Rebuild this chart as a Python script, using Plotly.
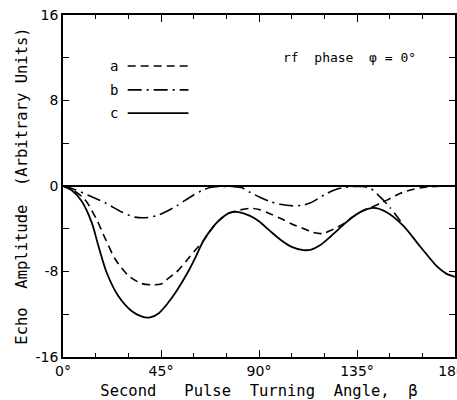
import plotly.graph_objects as go

# Curve a (dashed)
angle_a = [0, 5, 10, 15, 19.3, 24, 30, 36, 41, 45.3, 48, 52.9, 56.8, 60.6, 64.4, 67.5, 70.6, 73.5,
           76.7, 80, 86, 90, 95, 100, 105, 110, 115, 119, 124, 129.5, 133, 137.9, 141, 145.5, 149,
           154.7, 161, 167, 173, 180]
amp_a = [0, -0.45, -1.25, -2.95, -4.87, -6.85, -8.38, -9.12, -9.25, -9.15, -8.7, -7.9, -6.97, -6.03,
         -5.15, -4.25, -3.43, -2.9, -2.5, -2.3, -2.1, -2.2, -2.6, -3.05, -3.55, -3.95, -4.35, -4.45,
         -4.06, -3.45, -2.9, -2.3, -2.05, -1.63, -1.3, -0.7, -0.3, -0.1, -0.03, 0]

# Curve b (dash-dot)
angle_b = [0, 5, 11.6, 19.3, 27, 33, 39, 44, 47, 52.2, 56, 59.8, 63.5, 67.5, 72, 78, 82, 85.9,
           90.4, 95, 99.6, 105.7, 110, 113.4, 117, 121, 125, 128.7, 133, 137, 141, 145.5, 150.1, 155]
amp_b = [0, -0.3, -0.86, -1.57, -2.43, -2.91, -2.95, -2.7, -2.43, -1.86, -1.35, -0.86, -0.45, -0.14,
         -0.05, -0.05, -0.15, -0.6, -1.05, -1.45, -1.71, -1.86, -1.8, -1.6, -1.2, -0.71, -0.35, -0.14,
         -0.05, -0.05, -0.2, -1.0, -2.0, -3.3]

# Curve c (solid)
angle_c = [0, 4, 8.6, 13.2, 16.2, 20, 25.4, 31.5, 36, 40, 44, 48, 52.2, 57.5, 61, 64.4, 67.5, 70.6,
           73.5, 76.7, 80, 85.9, 90, 95, 100, 105, 110.3, 114, 118, 123, 129.5, 133, 137.9, 142.5,
           148.6, 156.2, 164, 171.6, 176, 180]
amp_c = [0, -0.4, -1.43, -3.43, -5.56, -8.07, -10.3, -11.7, -12.2, -12.3, -11.9, -11.0, -9.8, -8.0,
         -6.6, -5.15, -4.2, -3.43, -2.9, -2.5, -2.42, -2.8, -3.3, -4.2, -5.05, -5.7, -6.0, -5.95,
         -5.55, -4.7, -3.5, -2.9, -2.3, -2.05, -2.45, -3.71, -5.66, -7.5, -8.2, -8.5]

x_tickvals = [0, 45, 90, 135, 180]
x_ticktext = ["0°", "45°", "90°", "135°", "180°"]
y_tickvals = [-16, -8, 0, 8, 16]
y_ticktext = ["-16", "-8", "0", "8", "16"]

NB = "\u00a0"
MONO = "DejaVu Sans Mono"

fig = go.Figure()
fig.add_trace(go.Scatter(x=angle_a, y=amp_a, mode="lines", name="a",
                         line=dict(color="black", width=1.6, dash="8px,5px", shape="spline", smoothing=0.8)))
fig.add_trace(go.Scatter(x=angle_b, y=amp_b, mode="lines", name="b",
                         line=dict(color="black", width=1.6, dash="14px,5px,2px,5px", shape="spline", smoothing=0.8)))
fig.add_trace(go.Scatter(x=angle_c, y=amp_c, mode="lines", name="c",
                         line=dict(color="black", width=1.8, shape="spline", smoothing=0.8)))

# legend samples (drawn in paper space, label left of line)
legend_items = [("a", "8px,5px", 0.851), ("b", "14px,5px,2px,5px", 0.781), ("c", "solid", 0.713)]
for lab, dash, yp in legend_items:
    fig.add_shape(type="line", xref="paper", yref="paper", x0=0.165, x1=0.32, y0=yp, y1=yp,
                  line=dict(color="black", width=1.6, dash=dash))
    fig.add_annotation(text=lab, xref="paper", yref="paper", x=0.13, y=yp, showarrow=False,
                       xanchor="center", yanchor="middle", font=dict(family=MONO, size=14, color="black"))

fig.add_annotation(text=f"rf{NB}{NB}phase{NB}{NB}φ{NB}={NB}0°", xref="paper", yref="paper",
                   x=0.73, y=0.877, showarrow=False, xanchor="center", yanchor="middle",
                   font=dict(family=MONO, size=13, color="black"))

fig.update_layout(
    width=457, height=400,
    margin=dict(l=63, r=2, t=15, b=43),
    paper_bgcolor="white", plot_bgcolor="white",
    showlegend=False,
    font=dict(family="DejaVu Sans", color="black", size=14),
)
fig.update_xaxes(
    range=[0, 180], tickvals=x_tickvals, ticktext=x_ticktext,
    ticks="inside", ticklen=7, tickwidth=1.3, tickcolor="black",
    minor=dict(dtick=15, tick0=0, ticks="inside", ticklen=4, tickwidth=1.1, tickcolor="black"),
    showline=True, linecolor="black", linewidth=1.6, mirror="ticks",
    showgrid=False, zeroline=False, automargin=False, ticklabeloverflow="allow",
    tickfont=dict(family="DejaVu Sans", size=14),
    title=dict(text=f"Second{NB}{NB}{NB}Pulse{NB}{NB}Turning{NB}{NB}Angle,{NB}{NB}β",
               font=dict(family=MONO, size=15.5), standoff=12),
)
fig.update_yaxes(
    range=[-16, 16], tickvals=y_tickvals, ticktext=y_ticktext,
    ticks="inside", ticklen=6, tickwidth=1.3, tickcolor="black",
    minor=dict(dtick=4, tick0=0, ticks="inside", ticklen=6, tickwidth=1.1, tickcolor="black"),
    showline=True, linecolor="black", linewidth=1.6, mirror="ticks",
    showgrid=False, zeroline=True, zerolinecolor="black", zerolinewidth=1.6, automargin=False,
    tickfont=dict(family="DejaVu Sans", size=14),
    title=dict(text=f"Echo{NB}{NB}Amplitude{NB}{NB}(Arbitrary{NB}Units)",
               font=dict(family=MONO, size=15.5), standoff=4),
)

fig.write_html("out.html", config={"displayModeBar": False},
               post_script="document.body.style.margin='0px';document.body.style.overflow='hidden';")
